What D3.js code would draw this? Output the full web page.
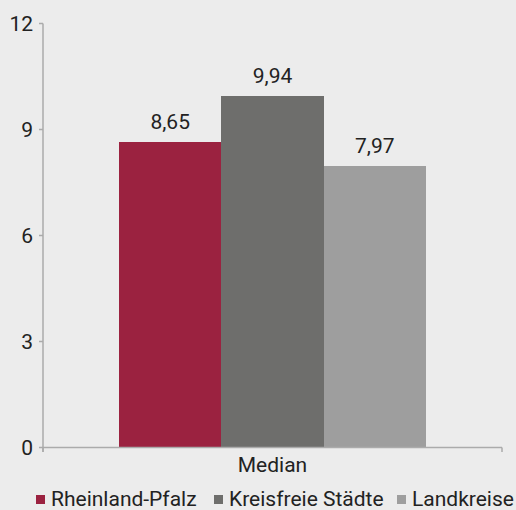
<!DOCTYPE html>
<html><head><meta charset="utf-8">
<script src="https://cdn.jsdelivr.net/npm/d3@7"></script>
<style>
html,body{margin:0;padding:0;background:#ececec;}
svg{display:block;font-family:Roboto,"Noto Sans",sans-serif;}
</style></head><body>
<svg id="c" width="516" height="510"></svg>
<script>
const categories = ["Median"];
const seriesNames = ["Rheinland-Pfalz", "Kreisfreie Städte", "Landkreise"];
const seriesValues = [8.65, 9.94, 7.97];
const valueLabels = ["8,65", "9,94", "7,97"];
const seriesColors = ["#9b2240", "#6e6e6c", "#9e9e9e"];
const yTicks = [0, 3, 6, 9, 12];

const svg = d3.select("#c");
svg.append("rect").attr("width",516).attr("height",510).attr("fill","#ececec");
const axisColor = "#ababab";
const textColor = "#222";
const fs = 21;

const x0 = d3.scaleBand().domain(categories).range([43, 502]).paddingInner(0).paddingOuter(0.2476);
const x1 = d3.scaleBand().domain(seriesNames).range([0, x0.bandwidth()]);
const y = d3.scaleLinear().domain([0, 12]).range([447.5, 23.5]);

// bars
const g = svg.append("g");
categories.forEach(c=>{
  seriesNames.forEach((s,i)=>{
    const v = seriesValues[i];
    const bx = Math.round(x0(c)+x1(s));
    const bx2 = Math.round(x0(c)+x1(s)+x1.bandwidth());
    g.append("rect").attr("x",bx).attr("width",bx2-bx)
      .attr("y",y(v)).attr("height",y(0)-y(v)).attr("fill",seriesColors[i])
      .attr("shape-rendering","crispEdges");
    g.append("text").attr("x",x0(c)+x1(s)+x1.bandwidth()/2).attr("y",y(v)-13)
      .attr("text-anchor","middle").attr("font-size",fs).attr("fill",textColor).text(valueLabels[i]);
  });
});

// y axis
const ya = svg.append("g");
ya.append("line").attr("x1",43).attr("x2",43).attr("y1",y(12)).attr("y2",y(0)+4.5)
  .attr("stroke",axisColor).attr("stroke-width",1.5);
yTicks.forEach(t=>{
  ya.append("line").attr("x1",39).attr("x2",43).attr("y1",y(t)).attr("y2",y(t))
    .attr("stroke",axisColor).attr("stroke-width",1.5);
  ya.append("text").attr("x",33).attr("y",y(t)).attr("dy","0.36em")
    .attr("text-anchor","end").attr("font-size",fs).attr("fill",textColor).text(t);
});

// x axis
const xa = svg.append("g");
xa.append("line").attr("x1",43).attr("x2",502).attr("y1",y(0)).attr("y2",y(0))
  .attr("stroke",axisColor).attr("stroke-width",1.5);
[43,502].forEach(px=>{
  xa.append("line").attr("x1",px).attr("x2",px).attr("y1",y(0)).attr("y2",y(0)+4.5)
    .attr("stroke",axisColor).attr("stroke-width",1.5);
});
categories.forEach(c=>{
  xa.append("text").attr("x",x0(c)+x0.bandwidth()/2).attr("y",472)
    .attr("text-anchor","middle").attr("font-size",fs).attr("fill",textColor).text(c);
});

// legend
const leg = svg.append("g");
const legX = [36, 214, 397];
seriesNames.forEach((s,i)=>{
  leg.append("rect").attr("x",legX[i]).attr("y",495).attr("width",9).attr("height",9).attr("fill",seriesColors[i]);
  leg.append("text").attr("x",legX[i]+15).attr("y",505.5).attr("font-size",fs).attr("fill",textColor).text(s);
});
</script>
</body></html>
